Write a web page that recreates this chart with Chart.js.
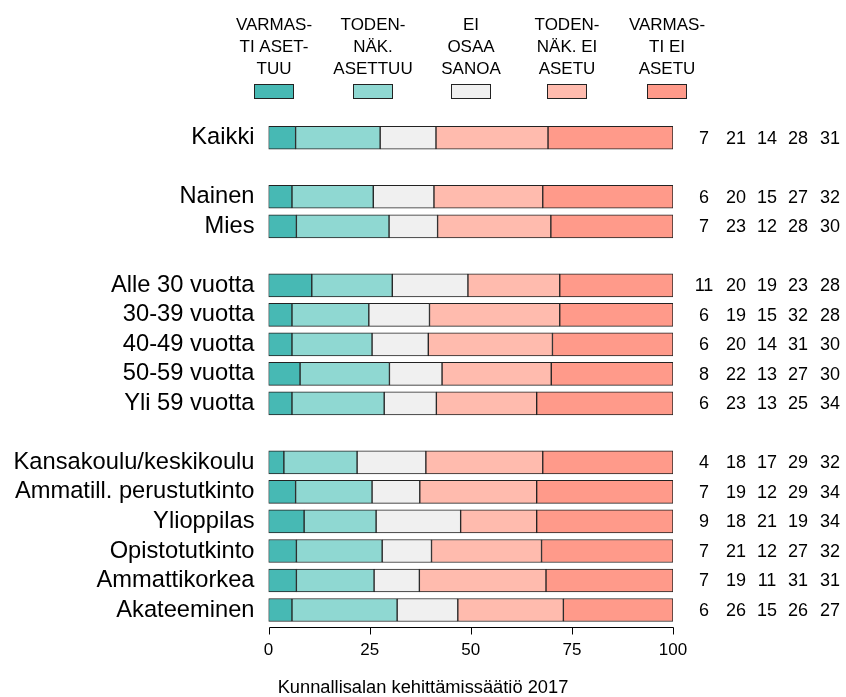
<!DOCTYPE html>
<html>
<head>
<meta charset="utf-8">
<script src="https://cdn.jsdelivr.net/npm/chart.js@4.4.1/dist/chart.umd.min.js"></script>
<style>
  html, body { margin: 0; padding: 0; background: #fff; }
</style>
</head>
<body>
<canvas id="myChart" width="846" height="697"></canvas>
<script>
// categories, '' rows are the gaps between groups
const categories = ['Kaikki', '', 'Nainen', 'Mies', '', 'Alle 30 vuotta', '30-39 vuotta', '40-49 vuotta',
  '50-59 vuotta', 'Yli 59 vuotta', '', 'Kansakoulu/keskikoulu', 'Ammatill. perustutkinto', 'Ylioppilas',
  'Opistotutkinto', 'Ammattikorkea', 'Akateeminen'];

// bar lengths (%)
const varmastiAsettuu = [6.7, null, 5.8, 6.9, null, 10.7, 5.8, 5.8, 7.8, 5.8, null, 3.8, 6.7, 8.8, 6.9, 6.9, 5.8];
const todenAsettuu = [20.9, null, 20.1, 22.9, null, 19.9, 19.0, 19.8, 22.1, 22.8, null, 18.1, 18.9, 17.8, 21.2, 19.2, 26.0];
const eiOsaa = [13.8, null, 15.0, 12.0, null, 18.7, 15.0, 13.9, 13.0, 12.9, null, 17.0, 11.8, 20.9, 12.2, 11.2, 15.0];
const todenEi = [27.7, null, 26.9, 28.0, null, 22.7, 32.2, 30.7, 27.0, 24.8, null, 28.9, 28.9, 18.8, 27.2, 31.3, 26.1];
const varmastiEi = [30.9, null, 32.2, 30.2, null, 28.0, 28.0, 29.8, 30.1, 33.7, null, 32.2, 33.7, 33.7, 32.5, 31.4, 27.1];

// rounded numbers printed at the right
const shown1 = [7, null, 6, 7, null, 11, 6, 6, 8, 6, null, 4, 7, 9, 7, 7, 6];
const shown2 = [21, null, 20, 23, null, 20, 19, 20, 22, 23, null, 18, 19, 18, 21, 19, 26];
const shown3 = [14, null, 15, 12, null, 19, 15, 14, 13, 13, null, 17, 12, 21, 12, 11, 15];
const shown4 = [28, null, 27, 28, null, 23, 32, 31, 27, 25, null, 29, 29, 19, 27, 31, 26];
const shown5 = [31, null, 32, 30, null, 28, 28, 30, 30, 34, null, 32, 34, 34, 32, 31, 27];

const legendLabels = [
  ['VARMAS-', 'TI ASET-', 'TUU'],
  ['TODEN-', 'NÄK.', 'ASETTUU'],
  ['EI', 'OSAA', 'SANOA'],
  ['TODEN-', 'NÄK. EI', 'ASETU'],
  ['VARMAS-', 'TI EI', 'ASETU']
];
const xTicks = [0, 25, 50, 75, 100];
const caption = 'Kunnallisalan kehittämissäätiö 2017';

const colors = ['#47b9b4', '#8fd8d2', '#f0f0f0', '#ffbbae', '#ff9a8a'];
const FONT = "'Liberation Sans', Arial, Helvetica, sans-serif";

const series = [varmastiAsettuu, todenAsettuu, eiOsaa, todenEi, varmastiEi];
const shown = [shown1, shown2, shown3, shown4, shown5];

const extras = {
  id: 'extras',
  afterDraw(chart) {
    const c = chart.ctx;
    const xs = chart.scales.x;
    const ys = chart.scales.y;
    c.save();
    c.fillStyle = '#000';
    c.textAlign = 'center';

    // legend on top
    const legX = [274, 373, 471, 567, 667];
    c.font = '17px ' + FONT;
    c.textBaseline = 'alphabetic';
    legendLabels.forEach((lines, i) => {
      lines.forEach((t, j) => c.fillText(t, legX[i], 29.5 + j * 22.3));
      c.fillStyle = colors[i];
      c.fillRect(legX[i] - 20, 84, 40, 15);
      c.strokeStyle = '#222';
      c.lineWidth = 1;
      c.strokeRect(legX[i] - 19.5, 84.5, 39, 14);
      c.fillStyle = '#000';
    });

    // x axis line with ticks
    const ay = 627.5;
    c.strokeStyle = '#000';
    c.lineWidth = 1;
    c.beginPath();
    c.moveTo(Math.round(xs.getPixelForValue(0)) + 0.5, ay);
    c.lineTo(Math.round(xs.getPixelForValue(100)) + 0.5, ay);
    xTicks.forEach(v => {
      const px = Math.round(xs.getPixelForValue(v)) + 0.5;
      c.moveTo(px, ay);
      c.lineTo(px, ay + 7);
    });
    c.stroke();

    // numbers at right
    const colX = [704, 736, 767, 798, 830];
    c.font = '18px ' + FONT;
    c.textBaseline = 'middle';
    categories.forEach((cat, i) => {
      if (!cat) return;
      const y = ys.getPixelForValue(i) + 1;
      shown.forEach((arr, k) => c.fillText(String(arr[i]), colX[k], y));
    });

    // source caption
    c.font = '18.3px ' + FONT;
    c.textBaseline = 'alphabetic';
    c.fillText(caption, 423, 693);
    c.restore();
  }
};

const ctx = document.getElementById('myChart');
new Chart(ctx, {
  type: 'bar',
  data: {
    labels: categories,
    datasets: series.map((d, i) => ({
      label: legendLabels[i].join(' '),
      data: d,
      backgroundColor: colors[i],
      borderColor: '#222',
      borderWidth: 1,
      borderSkipped: false,
      barThickness: 23
    }))
  },
  options: {
    indexAxis: 'y',
    responsive: false,
    animation: false,
    layout: { padding: { top: 123, right: 173, bottom: 0, left: 0 } },
    plugins: { legend: { display: false }, tooltip: { enabled: false } },
    scales: {
      x: {
        stacked: true,
        min: 0,
        max: 100,
        afterBuildTicks: s => { s.ticks = xTicks.map(v => ({ value: v })); },
        afterFit: s => { s.height = 72.25; },
        ticks: { color: '#000', padding: 15, font: { size: 17, family: FONT } },
        grid: { display: false, drawTicks: false },
        border: { display: false }
      },
      y: {
        stacked: true,
        afterFit: s => { s.width = 268.5; },
        ticks: { color: '#000', padding: 14, autoSkip: false, font: { size: 23.7, family: FONT } },
        grid: { display: false, drawTicks: false },
        border: { display: false }
      }
    }
  },
  plugins: [extras]
});
</script>
</body>
</html>
